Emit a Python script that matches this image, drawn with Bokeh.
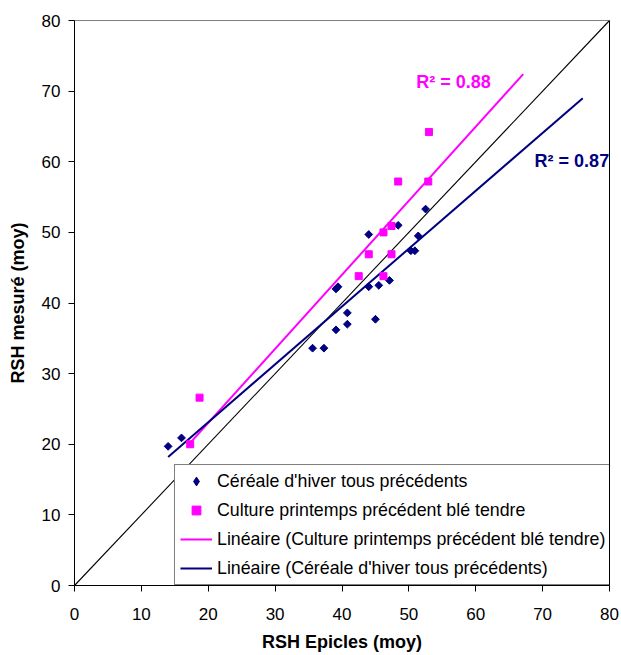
import numpy as np
from bokeh.plotting import figure
from bokeh.models import (Range1d, SingleIntervalTicker, FixedTicker, LinearAxis,
                          Legend, LegendItem, ColumnDataSource)
from bokeh.core.properties import value
from bokeh.embed import file_html
from bokeh.resources import INLINE

# ---- data ----
hiver_x = [14.0, 16.0, 35.6, 37.3, 39.1, 40.8, 40.8, 45.0, 39.1, 39.4,
           44.0, 45.5, 47.1, 44.0, 48.4, 51.4, 50.3, 50.9, 52.5]
hiver_y = [19.7, 20.9, 33.6, 33.6, 36.2, 37.0, 38.6, 37.7, 42.0, 42.3,
           42.3, 42.5, 43.2, 49.7, 51.0, 49.5, 47.4, 47.4, 53.3]

print_x = [17.3, 18.7, 42.5, 46.2, 44.0, 47.4, 46.2, 47.4, 48.4, 52.9, 53.0]
print_y = [20.0, 26.6, 43.8, 43.8, 46.9, 46.9, 50.0, 50.9, 57.2, 57.2, 64.2]

# Excel linear trend lines (end points)
trend_hiver_x = [14.0, 76.0]
trend_hiver_y = [18.2, 69.0]
trend_print_x = [17.3, 67.1]
trend_print_y = [20.2, 72.4]

diag_x = [0, 80]
diag_y = [0, 80]

r2_text = ["R\u00b2 = 0.88", "R\u00b2 = 0.87"]
r2_x = [51.1, 68.8]
r2_y = [71.3, 60.1]
r2_color = ["#FF00FF", "#000080"]

labels = ["C\u00e9r\u00e9ale d'hiver tous pr\u00e9c\u00e9dents",
          "Culture printemps pr\u00e9c\u00e9dent bl\u00e9 tendre",
          "Lin\u00e9aire (Culture printemps pr\u00e9c\u00e9dent bl\u00e9 tendre)",
          "Lin\u00e9aire (C\u00e9r\u00e9ale d'hiver tous pr\u00e9c\u00e9dents)"]

NAVY = "#000080"
MAG = "#FF00FF"
FONT = "Liberation Sans"

p = figure(frame_width=535, frame_height=565, output_backend="svg",
           toolbar_location=None,
           x_range=Range1d(0, 80), y_range=Range1d(0, 80),
           min_border_left=74, min_border_right=12, min_border_top=20,
           min_border_bottom=70)
p.xgrid.visible = False
p.ygrid.visible = False
p.outline_line_color = "#808080"
p.outline_line_width = 1
p.background_fill_color = "white"
p.border_fill_color = "white"

for ax in (p.xaxis[0], p.yaxis[0]):
    ax.ticker = SingleIntervalTicker(interval=10, num_minor_ticks=0)
    ax.axis_line_color = "black"
    ax.major_tick_line_color = "black"
    ax.major_tick_in = 0
    ax.major_tick_out = 6
    ax.minor_tick_line_color = None
    ax.major_label_text_font = FONT
    ax.major_label_text_font_size = "17px"
    ax.major_label_text_color = "black"
    ax.axis_label_text_font = FONT
    ax.axis_label_text_font_size = "18px"
    ax.axis_label_text_font_style = "bold"
    ax.axis_label_text_color = "black"

p.xaxis.axis_label = "RSH Epicles (moy)"
p.yaxis.axis_label = "RSH mesur\u00e9 (moy)"
p.xaxis.major_label_standoff = 16
p.xaxis.axis_label_standoff = 9
p.yaxis.major_label_standoff = 8
p.yaxis.axis_label_standoff = 11

# plain black right border line (no ticks, no labels)
right = LinearAxis(ticker=FixedTicker(ticks=[]), axis_line_color="black",
                   major_tick_line_color=None, minor_tick_line_color=None,
                   major_tick_out=0, major_tick_in=0)
p.add_layout(right, "right")

p.line(diag_x, diag_y, line_color="black", line_width=1.1)

rp = p.line(trend_print_x, trend_print_y, line_color=MAG, line_width=2)
rh = p.line(trend_hiver_x, trend_hiver_y, line_color=NAVY, line_width=2)

# diamond used for the legend entry (sits under the first rotated square)
leg_h = p.scatter(hiver_x[:1], hiver_y[:1], marker="diamond", size=5,
                  fill_color=NAVY, line_color=NAVY)
p.scatter(hiver_x, hiver_y, marker="square", angle=np.pi / 4, size=5.5,
          fill_color=NAVY, line_color=NAVY)
sp = p.scatter(print_x, print_y, marker="square", size=7,
               fill_color=MAG, line_color=MAG)

src = ColumnDataSource(dict(x=r2_x, y=r2_y, t=r2_text, c=r2_color))
p.text("x", "y", text="t", text_color="c", source=src,
       text_font=value(FONT), text_font_size="18px", text_font_style="bold",
       text_baseline="alphabetic", text_align="left")

legend = Legend(items=[LegendItem(label=labels[0], renderers=[leg_h]),
                       LegendItem(label=labels[1], renderers=[sp]),
                       LegendItem(label=labels[2], renderers=[rp]),
                       LegendItem(label=labels[3], renderers=[rh])],
                location=(100, 0),
                label_text_font=FONT, label_text_font_size="17.8px",
                label_text_color="black",
                glyph_width=32, glyph_height=22, label_height=22,
                label_standoff=5, spacing=7, padding=5, margin=0,
                border_line_color="black", border_line_width=1,
                background_fill_color="white", background_fill_alpha=1.0)
p.add_layout(legend, "center")

open("out.html", "w").write(file_html(p, INLINE))
